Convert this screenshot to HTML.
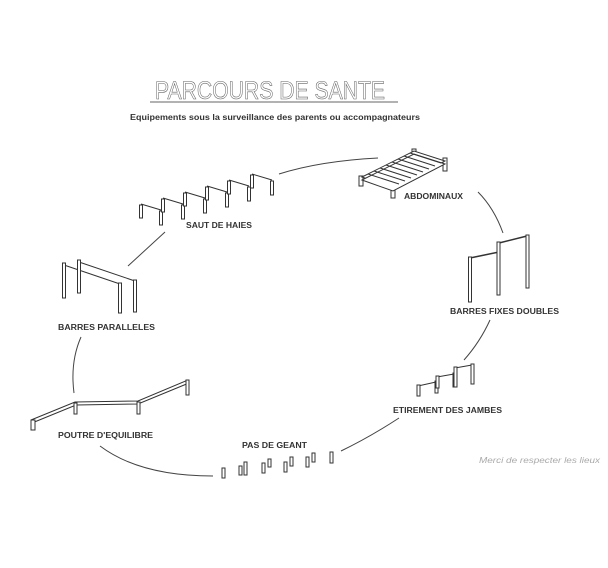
<!DOCTYPE html>
<html><head><meta charset="utf-8"><style>
html,body{margin:0;padding:0;background:#fff;}
svg{display:block;}
text{font-family:"Liberation Sans",sans-serif;}
</style></head><body>
<svg width="608" height="568" viewBox="0 0 608 568" xmlns="http://www.w3.org/2000/svg">
<g fill="none" stroke="#444" stroke-width="1">
<text x="270" y="99" text-anchor="middle" font-size="25" fill="#fff" stroke="#666" stroke-width="0.6" textLength="230" lengthAdjust="spacingAndGlyphs">PARCOURS DE SANTE</text>
<line x1="150" y1="102" x2="398" y2="102" stroke="#666"/>
<path d="M279,174 Q320,161 378,158"/>
<path d="M165,232 L128,266"/>
<path d="M478,192 Q494,208 503,233"/>
<path d="M490,320 Q480,342 464,360"/>
<path d="M399,418 Q370,437 341,451"/>
<path d="M81,337 Q70,362 74,393"/>
<path d="M100,446 Q140,476 213,476"/>
</g>
<g fill="#fff" stroke="#333" stroke-width="1">
<g><line x1="141" y1="204" x2="161" y2="210"/><rect x="139.5" y="205" width="3" height="13"/><rect x="159.5" y="211" width="3" height="14"/></g>
<g transform="translate(22,-6)"><line x1="141" y1="204" x2="161" y2="210"/><rect x="139.5" y="205" width="3" height="13"/><rect x="159.5" y="211" width="3" height="14"/></g>
<g transform="translate(44,-12)"><line x1="141" y1="204" x2="161" y2="210"/><rect x="139.5" y="205" width="3" height="13"/><rect x="159.5" y="211" width="3" height="14"/></g>
<g transform="translate(66,-18)"><line x1="141" y1="204" x2="161" y2="210"/><rect x="139.5" y="205" width="3" height="13"/><rect x="159.5" y="211" width="3" height="14"/></g>
<g transform="translate(88,-24)"><line x1="141" y1="204" x2="161" y2="210"/><rect x="139.5" y="205" width="3" height="13"/><rect x="159.5" y="211" width="3" height="14"/></g>
<g transform="translate(111,-30)"><line x1="141" y1="204" x2="161" y2="210"/><rect x="139.5" y="205" width="3" height="13"/><rect x="159.5" y="211" width="3" height="14"/></g>
<rect x="359" y="176" width="4" height="10"/>
<rect x="391" y="187" width="4" height="11"/>
<rect x="412" y="149" width="4" height="10"/>
<rect x="443" y="158" width="4" height="13"/>
<polygon points="362,177 414,151 445,161 393,188"/>
<polygon points="362,180 414,154 445,164 393,191"/>
<path d="M368,174 L399,184 M374,171 L405,181 M380,168 L411,178 M386,165 L417,175 M392,162 L423,172 M398,159 L429,169 M404,156 L435,166 M410,153 L441,163"/>
<line x1="79" y1="262" x2="135" y2="281"/>
<line x1="64" y1="265" x2="120" y2="284"/>
<rect x="62.5" y="263" width="3" height="35"/>
<rect x="77.5" y="260" width="3" height="33"/>
<rect x="118.5" y="283" width="3" height="30"/>
<rect x="133.5" y="280" width="3" height="32"/>
<line x1="470" y1="258" x2="499" y2="252" stroke-width="1.5"/>
<line x1="499" y1="243" x2="527" y2="236" stroke-width="1.5"/>
<rect x="468.5" y="257" width="3" height="45"/>
<rect x="497" y="242" width="3" height="53"/>
<rect x="526" y="235" width="3" height="53"/>
<line x1="418" y1="386" x2="436" y2="382"/>
<line x1="437" y1="377" x2="454" y2="374"/>
<line x1="455" y1="368" x2="472" y2="365"/>
<rect x="417" y="385" width="3" height="11"/>
<rect x="435" y="381" width="3" height="12"/>
<rect x="436" y="376" width="3" height="12"/>
<rect x="453" y="373" width="3" height="14"/>
<rect x="454" y="367" width="3" height="20"/>
<rect x="471" y="364" width="3" height="20"/>
<polyline fill="none" points="31,420 75,402 138,401 188,380"/>
<polyline fill="none" points="32,423 76,405 138,404 189,383"/>
<rect x="31" y="420" width="4" height="10"/>
<rect x="74" y="403" width="3" height="11"/>
<rect x="137" y="402" width="3" height="12"/>
<rect x="186" y="380" width="3" height="15"/>
<rect x="222" y="468" width="3" height="10"/>
<rect x="239" y="466" width="3" height="9"/>
<rect x="244" y="462" width="3" height="13"/>
<rect x="262" y="463" width="3" height="10"/>
<rect x="268" y="459" width="3" height="8"/>
<rect x="284" y="462" width="3" height="10"/>
<rect x="290" y="457" width="3" height="9"/>
<rect x="306" y="457" width="3" height="10"/>
<rect x="312" y="453" width="3" height="9"/>
<rect x="330" y="452" width="3" height="11"/>
</g>
<g fill="#333" font-size="8" font-weight="bold">
<text x="275" y="120" text-anchor="middle" textLength="290" lengthAdjust="spacingAndGlyphs">Equipements sous la surveillance des parents ou accompagnateurs</text>
<text x="186" y="228" textLength="66" lengthAdjust="spacingAndGlyphs">SAUT DE HAIES</text>
<text x="404" y="199" textLength="59" lengthAdjust="spacingAndGlyphs">ABDOMINAUX</text>
<text x="58" y="330" textLength="97" lengthAdjust="spacingAndGlyphs">BARRES PARALLELES</text>
<text x="450" y="314" textLength="109" lengthAdjust="spacingAndGlyphs">BARRES FIXES DOUBLES</text>
<text x="393" y="413" textLength="109" lengthAdjust="spacingAndGlyphs">ETIREMENT DES JAMBES</text>
<text x="58" y="438" textLength="95" lengthAdjust="spacingAndGlyphs">POUTRE D'EQUILIBRE</text>
<text x="242" y="448" textLength="65" lengthAdjust="spacingAndGlyphs">PAS DE GEANT</text>
</g>
<text x="479" y="463" font-size="8" font-style="italic" fill="#aaa" textLength="121" lengthAdjust="spacingAndGlyphs">Merci de respecter les lieux</text>
</svg>
</body></html>
